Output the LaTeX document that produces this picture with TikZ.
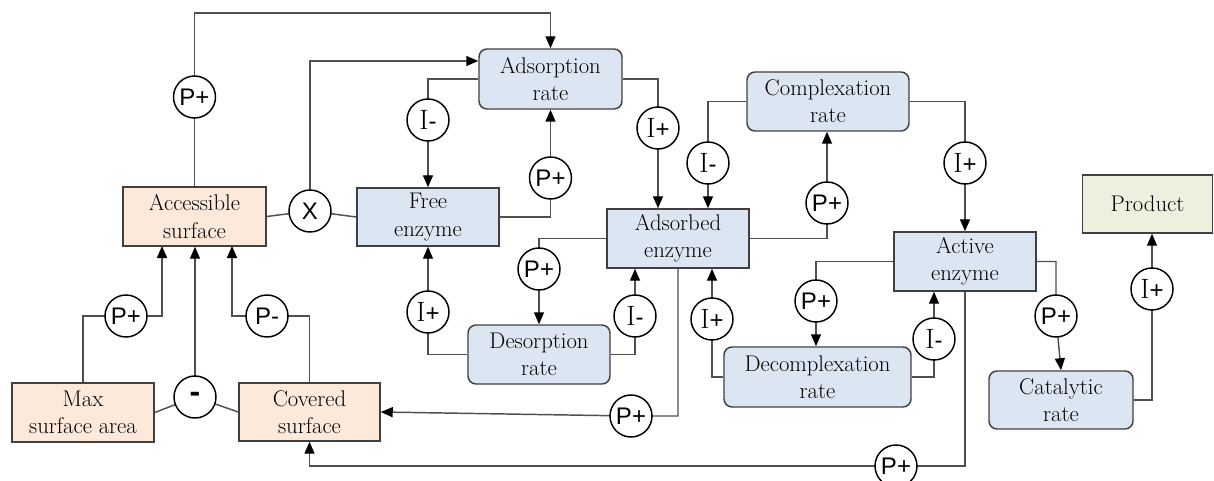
\documentclass[tikz,border=0pt]{standalone}
\usepackage{fontspec}
\newfontfamily\csans{Liberation Sans}
\usetikzlibrary{arrows.meta,backgrounds}
\definecolor{peach}{HTML}{FCE9DA}
\definecolor{lblue}{HTML}{DCE6F2}
\definecolor{lgreen}{HTML}{EBF1DE}
\definecolor{edgec}{HTML}{404040}
\definecolor{wirec}{HTML}{505050}
\newcommand\Iletter{{\fontsize{21}{21}\selectfont I}}
\begin{document}
\begin{tikzpicture}[x=0.75pt,y=-0.75pt,
 font=\fontsize{17}{20.5}\selectfont,
 box/.style={draw=edgec, line width=1.1pt, align=center, inner sep=0pt},
 bw/.style={minimum width=#1*0.75pt},
 bh/.style={minimum height=#1*0.75pt},
 surf/.style={box, fill=peach},
 var/.style={box, fill=lblue},
 rate/.style={box, fill=lblue, rounded corners=6pt},
 prodb/.style={box, fill=lgreen},
 ctl/.style={circle, draw=black, line width=1.1pt, fill=white, minimum size=31.5pt, inner sep=0pt, font=\fontsize{18}{18}\selectfont},
 wire/.style={draw=wirec, line width=1.1pt},
 arr/.style={wire, -{Triangle[width=7.5pt,length=9pt,color=black]}}
]
\useasboundingbox (0,0) rectangle (1214,481);
% boxes
\node[surf,bw=143,bh=59] (acc) at (194.5,216.5) {Accessible\\surface};
\node[surf,bw=142,bh=59] (mx) at (83,412.5) {Max\\surface area};
\node[surf,bw=141,bh=58] (cov) at (309.5,412) {Covered\\surface};
\node[var,bw=142,bh=58] (free) at (428,217) {Free\\enzyme};
\node[rate,bw=143,bh=60] (ar) at (550.5,79) {Adsorption\\rate};
\node[var,bw=142,bh=59] (ad) at (678,238.5) {Adsorbed\\enzyme};
\node[rate,bw=162,bh=59] (cr) at (828,101.5) {Complexation\\rate};
\node[var,bw=142,bh=59] (act) at (965,261.5) {Active\\enzyme};
\node[prodb,bw=130,bh=58] (prod) at (1147.5,204) {Product};
\node[rate,bw=142,bh=59] (ds) at (539,354.5) {Desorption\\rate};
\node[rate,bw=187,bh=60] (dc) at (817.5,377) {Decomplexation\\rate};
\node[rate,bw=144,bh=58] (cat) at (1061,400) {Catalytic\\rate};
% control circles
\node[ctl] (p1) at (194.5,97) {\csans P+};
\node[ctl] (x1) at (310,211) {\csans X};
\node[ctl] (i1) at (428,120) {\Iletter{\csans -}};
\node[ctl] (p2) at (550.5,178) {\csans P+};
\node[ctl] (i2) at (658,128) {\Iletter{\csans +}};
\node[ctl] (i3) at (708,163) {\Iletter{\csans -}};
\node[ctl] (p3) at (827,203) {\csans P+};
\node[ctl] (i4) at (965,163) {\Iletter{\csans +}};
\node[ctl] (p4) at (126,316) {\csans P+};
\node[ctl] (m1) at (195,397) {\csans\bfseries\fontsize{24}{24}\selectfont -};
\node[ctl] (p5) at (267,316) {\csans P-};
\node[ctl] (i5) at (428,312) {\Iletter{\csans +}};
\node[ctl] (p6) at (539,269) {\csans P+};
\node[ctl] (i6) at (635,316) {\Iletter{\csans -}};
\node[ctl] (p7) at (631,416) {\csans P+};
\node[ctl] (i7) at (712,319) {\Iletter{\csans +}};
\node[ctl] (p8) at (816,301) {\csans P+};
\node[ctl] (i8) at (934,339) {\Iletter{\csans -}};
\node[ctl] (p9) at (1056,316) {\csans P+};
\node[ctl] (i9) at (1152,289) {\Iletter{\csans +}};
\node[ctl] (p10) at (896,466) {\csans P+};
\coordinate (accL) at (162,246);
\coordinate (accR) at (232,246);
% connectors
\begin{scope}[on background layer]
\draw[arr] (acc.north) -- (194.5,13) -| (ar.north);
\draw[arr] (x1.center) |- (ar.west |- 0,61);
\draw[wire] (acc.east) -- (x1.center) -- (free.west);
\draw[arr] (ar.west) -| (free.north);
\draw[arr] (free.east) -| (ar.south);
\draw[arr] (ar.east) -| (i2.center) -- (i2 |- ad.north);
\draw[arr] (cr.west) -| (i3.center) -- (i3 |- ad.north);
\draw[arr] (ad.east) -| (p3.center) -- (p3 |- cr.south);
\draw[arr] (cr.east) -| (act.north);
\draw[arr] (ad.west) -| (ds.north);
\draw[arr] (ds.west) -| (free.south);
\draw[arr] (ds.east) -| (i6.center) -- (i6 |- ad.south);
\draw[arr] (ad.south) |- (p7.center) -- (cov.east);
\draw[arr] (dc.west) -| (i7.center) -- (i7 |- ad.south);
\draw[arr] (act.west) -| (p8.center) -- (p8 |- dc.north);
\draw[arr] (dc.east) -| (i8.center) -- (i8 |- act.south);
\draw[arr] (act.east) -| (p9.center) -- (cat.north);
\draw[arr] (cat.east) -| (i9.center) -- (i9 |- prod.south);
\draw[arr] (act.south) |- (p10.center) -| (cov.south);
\draw[arr] (mx.north) |- (p4.center) -| (accL);
\draw[wire] (mx.east) -- (m1.center) -- (cov.west);
\draw[arr] (m1.center) -- (m1 |- acc.south);
\draw[arr] (cov.north) |- (p5.center) -| (accR);
\end{scope}
\end{tikzpicture}
\end{document}
